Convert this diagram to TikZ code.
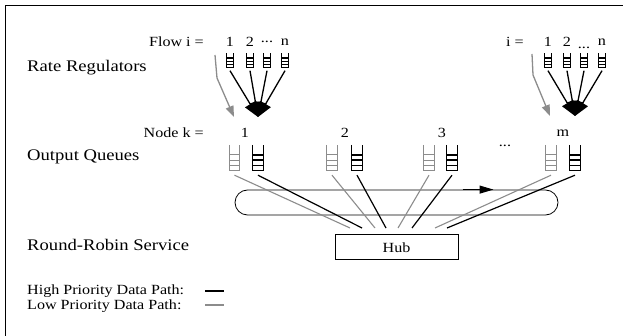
\documentclass[tikz,border=0pt]{standalone}
\usepackage{fontspec}
\setmainfont{Liberation Serif}[FakeStretch=1.15]
\usetikzlibrary{arrows.meta,calc}
\newcommand\bigfont{\fontsize{16.2}{19}\selectfont}
\newcommand\midfont{\fontsize{14}{16}\selectfont}
\newcommand\smallfont{\fontsize{14}{16}\selectfont}
\newcommand\drawqueue[4]{% name, colour, line width, bar fractions
  \draw[#2,line width=#3] (#1.north west) -- (#1.south west) -- (#1.south east) -- (#1.north east);
  \foreach \f in {#4}
    \draw[#2,line width=#3] ($(#1.south west)!\f!(#1.north west)$) -- ($(#1.south east)!\f!(#1.north east)$);
}
\begin{document}
\begin{tikzpicture}[x=1pt,y=-1pt,
  lbl/.style={inner sep=0pt,font=\bigfont},
  sm/.style={inner sep=0pt,font=\smallfont},
  rq/.style={inner sep=0pt,minimum width=7pt,minimum height=14pt},
  oq/.style={inner sep=0pt,minimum width=10pt,minimum height=25pt},
  hi/.style={black,line width=1.2pt},
  lo/.style={black!45,line width=1.1pt},
  fan/.style={black,line width=1.3pt,-{Triangle[length=15pt,width=12pt]}},
  gar/.style={black!45,line width=1.3pt,-{Triangle[length=11pt,width=8pt]}}]
\useasboundingbox (0,0) rectangle (623,336);
\draw[line width=0.8pt] (5,336) -- (5,5) -- (623,5);

% left labels
\node[lbl,anchor=west] (rr) at (27,68) {Rate Regulators};
\node[lbl,anchor=west] (oqs) at (27,157) {Output Queues};
\node[lbl,anchor=west] (rrs) at (27,245) {Round-Robin Service};

% flow labels
\node[sm,anchor=east] (flow) at (204,42) {Flow i =};
\node[sm] (f1) at (230,42) {1};
\node[sm] (f2) at (250,42) {2};
\node[sm] (fd) at (267,42) {...};
\node[sm] (fn) at (285,42) {n};
\node[sm,anchor=east] (flow2) at (524,42) {i =};
\node[sm] (r1) at (548,42) {1};
\node[sm] (r2) at (567,42) {2};
\node[sm] (rd) at (584,48) {...};
\node[sm] (rn) at (602,42) {n};

% rate regulator queues
\foreach \n/\x in {a1/230,a2/250,a3/267,a4/285,b1/548,b2/567,b3/584,b4/602}
  \node[rq] (\n) at (\x,60.5) {};
\foreach \n in {a1,a2,a3,a4,b1,b2,b3,b4}
  {\drawqueue{\n}{black}{1.3pt}{0.22,0.45,0.68}}

% converging arrows
\coordinate (ta) at (258,117);
\coordinate (tb) at (575,116);
\foreach \n in {a1,a2,a3,a4}
  \draw[fan] ($(\n.south)+(0,3)$) -- (ta);
\foreach \n in {b1,b2,b3,b4}
  \draw[fan] ($(\n.south)+(0,3)$) -- (tb);
\coordinate (ga0) at (215,55);
\coordinate (ga1) at (217,78);
\coordinate (ga2) at (234,117);
\draw[gar] (ga0) -- (ga1) -- (ga2);
\coordinate (gb0) at (532,54);
\coordinate (gb1) at (533,75);
\coordinate (gb2) at (550,116);
\draw[gar] (gb0) -- (gb1) -- (gb2);

% node labels
\node[sm,anchor=east] (nodek) at (204,133) {Node k =};
\node[sm] (k1) at (245,133) {1};
\node[sm] (k2) at (345,133) {2};
\node[sm] (k3) at (442,133) {3};
\node[sm] (km) at (563,133) {m};
\node[sm] (kd) at (505,146) {...};

% output queues
\foreach \n/\x in {g1/234.5,g2/332,g3/429,g4/551}
  \node[oq] (\n) at (\x,157.5) {};
\foreach \n/\x in {h1/258,h2/357,h3/452,h4/575}
  \node[oq] (\n) at (\x,157.5) {};
\foreach \n in {g1,g2,g3,g4}
  {\drawqueue{\n}{black!45}{1pt}{0.2,0.4,0.6}}
\foreach \n in {h1,h2,h3,h4}
  {\drawqueue{\n}{black}{1.1pt}{0.2,0.4,0.6}}

% ring
\node[draw,line width=0.8pt,minimum width=323pt,minimum height=25pt,rounded corners=12.5pt,inner sep=0] (ring) at (396.5,202.5) {};
\draw[black,line width=1.1pt,-{Triangle[length=14pt,width=8pt]}] ($(ring.north)+(66,0)$) -- ($(ring.north)+(97,0)$);

% hub
\node[draw,line width=1pt,minimum width=123pt,minimum height=25pt,inner sep=0,font=\midfont] (hub) at (396.5,247.5) {Hub};
\foreach \n/\x in {e1/350,e2/362,e3/375,e4/386,e5/398,e6/412,e7/435,e8/447}
  \coordinate (\n) at (\x,228);
\draw[lo] ($(g1.south)+(0,5)$) -- (e1);
\draw[hi] ($(h1.south)+(0,5)$) -- (e2);
\draw[lo] ($(g2.south)+(0,5)$) -- (e3);
\draw[hi] ($(h2.south)+(0,5)$) -- (e4);
\draw[lo] ($(g3.south)+(0,5)$) -- (e5);
\draw[hi] ($(h3.south)+(0,5)$) -- (e6);
\draw[lo] ($(g4.south)+(0,5)$) -- (e7);
\draw[hi] ($(h4.south)+(0,5)$) -- (e8);

% legend
\node[inner sep=0,font=\midfont,anchor=west] (lh) at (27,291) {High Priority Data Path:};
\node[inner sep=0,font=\midfont,anchor=west] (ll) at (27,306) {Low Priority Data Path:};
\coordinate (lh0) at (205,291);
\coordinate (lh1) at (224,291);
\coordinate (ll0) at (205,305);
\coordinate (ll1) at (224,305);
\draw[hi] (lh0) -- (lh1);
\draw[lo] (ll0) -- (ll1);
\end{tikzpicture}
\end{document}
